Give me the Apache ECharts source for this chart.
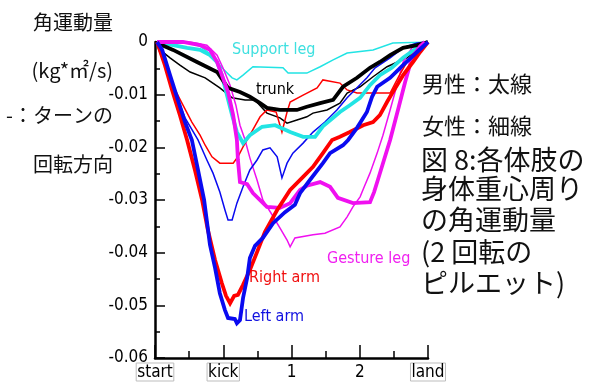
<!DOCTYPE html>
<html><head><meta charset="utf-8">
<script src="https://cdn.jsdelivr.net/npm/echarts@6/dist/echarts.min.js"></script>
<style>html,body{margin:0;padding:0;background:#fff}#c{width:602px;height:382px}</style>
</head><body><div id="c"></div>
<script>
// x axis: 0 = start, 2 = kick, 4 = "1", 6 = "2", 8 = land
const xTickLabels = {0: 'start', 2: 'kick', 4: '1', 6: '2', 8: 'land'};
const boxedLabels = ['start', 'kick', 'land'];
const yMin = -0.06, yMax = 0, yStep = 0.01;

// Support leg
const supportMale = [[0.06,0],[0.53,-0.0006],[0.94,-0.0011],[1.32,-0.0015],[1.61,-0.0025],[1.82,-0.0038],[1.96,-0.0063],[2.11,-0.0101],[2.26,-0.0139],[2.40,-0.0171],[2.58,-0.0192],[2.78,-0.0177],[3.14,-0.0161],[3.52,-0.0158],[3.96,-0.0171],[4.34,-0.0180],[4.69,-0.0180],[4.92,-0.0160],[5.22,-0.0144],[5.42,-0.0133],[5.71,-0.0120],[6.01,-0.0106],[6.30,-0.0082],[6.59,-0.0063],[6.94,-0.0049],[7.27,-0.0030],[7.68,-0.0011],[8.00,0]];
const supportFemale = [[0.06,0],[0.94,0],[1.32,-0.0008],[1.67,-0.0025],[1.96,-0.0049],[2.26,-0.0068],[2.40,-0.0072],[2.58,-0.0063],[2.87,-0.0047],[3.75,-0.0049],[3.90,-0.0059],[4.45,-0.0059],[4.84,-0.0047],[5.22,-0.0034],[5.63,-0.0021],[6.39,-0.0015],[6.97,-0.0002],[8.00,0]];
// Trunk
const trunkMale = [[0.06,-0.0002],[0.53,-0.0015],[1.23,-0.0038],[1.82,-0.0057],[2.14,-0.0087],[2.49,-0.0095],[2.78,-0.0104],[3.08,-0.0116],[3.28,-0.0125],[3.66,-0.0129],[4.16,-0.0129],[4.45,-0.0123],[4.84,-0.0116],[5.22,-0.0110],[5.51,-0.0085],[5.92,-0.0068],[6.30,-0.0049],[6.59,-0.0038],[6.89,-0.0025],[7.27,-0.0011],[7.68,-0.0006],[8.00,0]];
const trunkFemale = [[0.06,0],[0.15,-0.0015],[0.44,-0.0030],[0.73,-0.0044],[1.03,-0.0057],[1.47,-0.0068],[1.90,-0.0087],[2.26,-0.0106],[2.64,-0.0110],[2.93,-0.0110],[3.28,-0.0135],[3.66,-0.0144],[3.87,-0.0154],[4.16,-0.0148],[4.45,-0.0142],[4.63,-0.0135],[5.04,-0.0129],[5.42,-0.0116],[5.63,-0.0097],[6.01,-0.0085],[6.39,-0.0066],[6.80,-0.0047],[7.38,-0.0030],[7.68,-0.0015],[7.97,-0.0002]];
// Gesture leg
const gestureMale = [[0.06,0],[0.82,0],[1.32,-0.0006],[1.61,-0.0015],[1.82,-0.0038],[1.96,-0.0063],[2.14,-0.0095],[2.29,-0.0139],[2.40,-0.0186],[2.43,-0.0224],[2.49,-0.0266],[2.70,-0.0270],[2.87,-0.0287],[3.28,-0.0313],[3.66,-0.0315],[3.96,-0.0306],[4.25,-0.0281],[4.45,-0.0273],[4.84,-0.0266],[5.13,-0.0275],[5.36,-0.0296],[5.80,-0.0306],[6.30,-0.0304],[6.42,-0.0285],[6.53,-0.0262],[6.71,-0.0224],[6.89,-0.0186],[7.12,-0.0129],[7.33,-0.0076],[7.53,-0.0030],[7.77,-0.0008],[7.91,0]];
const gestureFemale = [[0.06,0],[1.03,0],[1.52,-0.0006],[1.82,-0.0025],[1.99,-0.0049],[2.20,-0.0082],[2.37,-0.0120],[2.49,-0.0158],[2.64,-0.0186],[2.78,-0.0220],[2.99,-0.0262],[3.16,-0.0300],[3.43,-0.0328],[3.66,-0.0353],[3.87,-0.0376],[3.96,-0.0389],[4.10,-0.0372],[4.63,-0.0366],[4.98,-0.0363],[5.42,-0.0351],[5.63,-0.0332],[5.80,-0.0313],[6.01,-0.0294],[6.15,-0.0272],[6.30,-0.0249],[6.51,-0.0211],[6.68,-0.0177],[6.89,-0.0129],[7.09,-0.0082],[7.27,-0.0038],[7.53,-0.0011],[7.82,0]];
// Right arm
const rightMale = [[0.06,0],[0.29,-0.0044],[0.50,-0.0091],[0.73,-0.0139],[0.94,-0.0186],[1.17,-0.0243],[1.38,-0.0300],[1.55,-0.0357],[1.76,-0.0414],[1.96,-0.0458],[2.08,-0.0482],[2.20,-0.0496],[2.32,-0.0482],[2.43,-0.0480],[2.58,-0.0461],[2.78,-0.0433],[2.99,-0.0399],[3.22,-0.0361],[3.58,-0.0319],[3.96,-0.0281],[4.34,-0.0256],[4.63,-0.0237],[4.92,-0.0211],[5.19,-0.0186],[5.42,-0.0180],[5.71,-0.0171],[6.10,-0.0158],[6.39,-0.0152],[6.59,-0.0139],[6.80,-0.0114],[6.97,-0.0095],[7.27,-0.0063],[7.56,-0.0038],[7.77,-0.0019],[8.00,0]];
const rightFemale = [[0.06,0],[0.29,-0.0044],[0.59,-0.0091],[0.82,-0.0120],[1.08,-0.0152],[1.32,-0.0177],[1.47,-0.0196],[1.67,-0.0218],[1.90,-0.0230],[2.29,-0.0230],[2.43,-0.0218],[2.58,-0.0199],[2.78,-0.0177],[3.08,-0.0142],[3.28,-0.0129],[3.55,-0.0133],[3.72,-0.0171],[3.87,-0.0133],[3.96,-0.0114],[4.34,-0.0101],[4.75,-0.0087],[4.92,-0.0072],[5.42,-0.0078],[5.63,-0.0091],[5.92,-0.0097],[6.89,-0.0097],[7.12,-0.0068],[7.38,-0.0038],[7.62,-0.0015],[7.85,0]];
// Left arm
const leftMale = [[0.06,0],[0.21,-0.0015],[0.44,-0.0063],[0.67,-0.0110],[0.88,-0.0152],[1.08,-0.0186],[1.26,-0.0243],[1.44,-0.0300],[1.61,-0.0385],[1.76,-0.0429],[1.90,-0.0477],[2.05,-0.0509],[2.14,-0.0524],[2.34,-0.0526],[2.40,-0.0534],[2.49,-0.0528],[2.58,-0.0486],[2.70,-0.0448],[2.78,-0.0410],[2.93,-0.0387],[3.16,-0.0372],[3.46,-0.0344],[3.81,-0.0323],[4.10,-0.0309],[4.25,-0.0287],[4.54,-0.0262],[4.92,-0.0230],[5.13,-0.0211],[5.51,-0.0196],[5.66,-0.0186],[5.92,-0.0163],[6.21,-0.0133],[6.36,-0.0104],[6.51,-0.0085],[6.89,-0.0068],[7.27,-0.0044],[7.68,-0.0019],[8.00,0]];
const leftFemale = [[0.06,-0.0006],[0.29,-0.0044],[0.59,-0.0095],[0.88,-0.0144],[1.26,-0.0186],[1.52,-0.0224],[1.70,-0.0249],[1.90,-0.0285],[2.05,-0.0319],[2.14,-0.0338],[2.26,-0.0338],[2.40,-0.0306],[2.58,-0.0275],[2.78,-0.0243],[2.99,-0.0224],[3.16,-0.0205],[3.37,-0.0201],[3.58,-0.0218],[3.72,-0.0258],[3.87,-0.0230],[4.04,-0.0211],[4.34,-0.0192],[4.63,-0.0171],[4.98,-0.0152],[5.33,-0.0129],[5.63,-0.0106],[5.92,-0.0087],[6.21,-0.0068],[6.45,-0.0049],[6.89,-0.0030],[7.27,-0.0011],[7.68,-0.0002],[8.00,0]];

const CYAN = '#22e4e4', BLACK = '#000000', MAGENTA = '#f010f0', RED = '#ff0000', BLUE = '#0a0af0';
const THICK = 3.8, THIN = 1.5;

const seriesDefs = [
  {name: 'Support leg (女性)', data: supportFemale, color: CYAN, w: THIN},
  {name: 'Support leg (男性)', data: supportMale, color: CYAN, w: THICK},
  {name: 'trunk (女性)', data: trunkFemale, color: BLACK, w: THIN},
  {name: 'trunk (男性)', data: trunkMale, color: BLACK, w: THICK},
  {name: 'Gesture leg (女性)', data: gestureFemale, color: MAGENTA, w: THIN},
  {name: 'Gesture leg (男性)', data: gestureMale, color: MAGENTA, w: THICK},
  {name: 'Right arm (女性)', data: rightFemale, color: RED, w: THIN},
  {name: 'Right arm (男性)', data: rightMale, color: RED, w: THICK},
  {name: 'Left arm (女性)', data: leftFemale, color: BLUE, w: THIN},
  {name: 'Left arm (男性)', data: leftMale, color: BLUE, w: THICK}
];

const LAT = '"Liberation Sans Narrow", "DejaVu Sans Condensed", "Liberation Sans", Arial, sans-serif';
const JP = '"Noto Sans CJK JP", sans-serif';

function txt(x, y, text, size, color, align, family) {
  return {type: 'text', x: x, y: y, silent: true,
    style: {text: text, fontSize: size, fill: color, align: align || 'left', verticalAlign: 'middle', fontFamily: family || LAT}};
}

const chart = echarts.init(document.getElementById('c'), null, {renderer: 'canvas'});
chart.setOption({
  animation: false,
  backgroundColor: '#fff',
  grid: {left: 155, top: 42, width: 273, height: 316, containLabel: false, outerBoundsMode: 'none'},
  xAxis: {
    type: 'value', min: 0, max: 8, interval: 2,
    axisLine: {show: true, onZero: false, lineStyle: {color: '#000', width: 2.5}},
    axisTick: {show: true, inside: true, length: 13, lineStyle: {color: '#000', width: 1.5}},
    minorTick: {show: true, splitNumber: 2, length: 7, lineStyle: {color: '#000', width: 1.5}},
    splitLine: {show: false},
    axisLabel: {
      margin: 5, fontSize: 17, color: '#000', fontFamily: LAT,
      formatter: function (v) {
        const t = xTickLabels[Math.round(v)];
        if (t === undefined) return '';
        return boxedLabels.indexOf(t) >= 0 ? '{b|' + t + '}' : '{n|' + t + '}';
      },
      rich: {
        b: {fontSize: 17, fontFamily: LAT, color: '#000', borderColor: '#bdbdbd', borderWidth: 1, padding: [1, 1, 0, 1]},
        n: {fontSize: 17, fontFamily: LAT, color: '#000', padding: [1, 0, 0, 0]}
      }
    }
  },
  yAxis: {
    type: 'value', min: yMin, max: yMax, interval: yStep,
    axisLine: {show: true, onZero: false, lineStyle: {color: '#000', width: 2.5}},
    axisTick: {show: true, inside: true, length: 10, lineStyle: {color: '#000', width: 1.5}},
    minorTick: {show: true, splitNumber: 2, length: 5, lineStyle: {color: '#000', width: 1.5}},
    splitLine: {show: false},
    axisLabel: {
      margin: 7, fontSize: 17, color: '#000', fontFamily: LAT,
      formatter: function (v) { return Math.abs(v) < 1e-9 ? '0' : v.toFixed(2); }
    }
  },
  series: seriesDefs.map(function (s) {
    return {name: s.name, type: 'line', data: s.data, showSymbol: false, symbol: 'none',
      lineStyle: {color: s.color, width: s.w, join: 'miter'}, itemStyle: {color: s.color}, z: s.w > 2 ? 3 : 2};
  }),
  graphic: [
    txt(113, 22, '角運動量', 20, '#111', 'right', JP),
    txt(113, 70, '(kg*㎡/s)', 20, '#111', 'right', JP),
    txt(113, 115, '-：ターンの', 20, '#111', 'right', JP),
    txt(113, 164, '回転方向', 20, '#111', 'right', JP),
    txt(422, 84, '男性：太線', 22, '#111', 'left', JP),
    txt(422, 126, '女性：細線', 22, '#111', 'left', JP),
    txt(421, 160, '図 8:各体肢の', 27, '#111', 'left', JP),
    txt(421, 189, '身体重心周り', 27, '#111', 'left', JP),
    txt(421, 220, 'の角運動量', 27, '#111', 'left', JP),
    txt(421, 252, '(2 回転の', 27, '#111', 'left', JP),
    txt(421, 283, 'ピルエット)', 27, '#111', 'left', JP),
    txt(232, 50, 'Support leg', 16, '#3fe0e0'),
    txt(256, 90, 'trunk', 16, '#000'),
    txt(327, 259, 'Gesture leg', 16, '#f020f0'),
    txt(249, 278, 'Right arm', 16, '#f01010'),
    txt(244, 317, 'Left arm', 16, '#1010e0')
  ]
});
</script></body></html>
